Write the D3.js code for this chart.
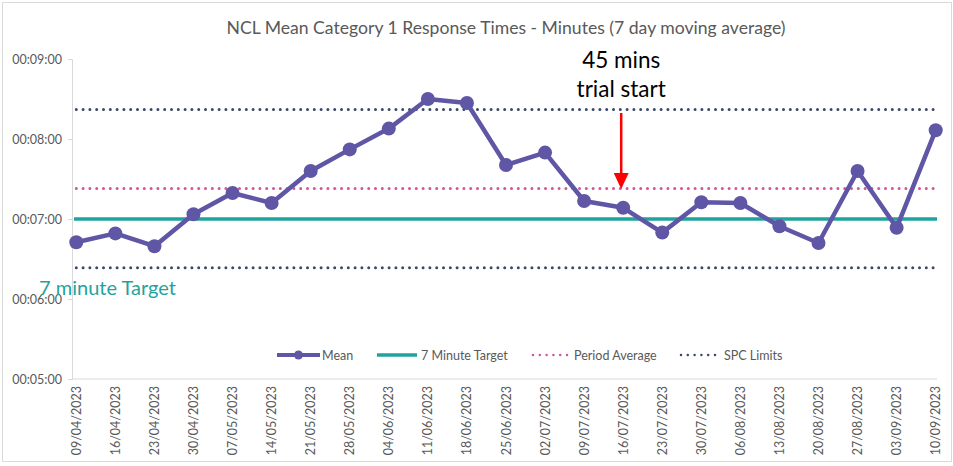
<!DOCTYPE html>
<html><head><meta charset="utf-8">
<script src="https://cdn.jsdelivr.net/npm/d3@7"></script>
<style>body{margin:0;background:#fff}svg{display:block;font-family:Lato,"Open Sans",sans-serif}</style>
</head><body><svg id="c" width="953" height="466"></svg>
<script>
const dates = ["09/04/2023","16/04/2023","23/04/2023","30/04/2023","07/05/2023","14/05/2023","21/05/2023","28/05/2023","04/06/2023","11/06/2023","18/06/2023","25/06/2023","02/07/2023","09/07/2023","16/07/2023","23/07/2023","30/07/2023","06/08/2023","13/08/2023","20/08/2023","27/08/2023","03/09/2023","10/09/2023"];
const meanMinutes = [6.71,6.82,6.66,7.06,7.325,7.20,7.60,7.87,8.13,8.50,8.45,7.675,7.83,7.225,7.14,6.83,7.21,7.20,6.91,6.70,7.60,6.89,8.11];
const targetMinutes = 7.0;
const periodAverage = 7.38;
const spcUpper = 8.37;
const spcLower = 6.39;
const yTicks = [5,6,7,8,9];
const trialStartDate = "16/07/2023";
const title = "NCL Mean Category 1 Response Times - Minutes (7 day moving average)";

const svg = d3.select("#c");
// chart border
svg.append("rect").attr("x",2.5).attr("y",2.5).attr("width",949).attr("height",459)
  .attr("fill","none").attr("stroke","#d9d9d9");

const x = d3.scalePoint().domain(dates).range([76.3,935.7]);
const y = d3.scaleLinear().domain([5,9]).range([379,59]);
const axisLeft = 72, axisRight = 937;

const fmt = m => { const s = Math.round(m*60); const mm = Math.floor(s/60), ss = s%60;
  return "00:" + String(mm).padStart(2,"0") + ":" + String(ss).padStart(2,"0"); };

// title
svg.append("text").attr("x",506).attr("y",34).attr("text-anchor","middle")
  .attr("font-size",17.6).attr("fill","#595959").text(title);

// y axis
const ya = svg.append("g").attr("transform",`translate(${axisLeft},0)`)
  .call(d3.axisLeft(y).tickValues(yTicks).tickFormat(fmt).tickSize(4).tickPadding(6));
ya.select(".domain").attr("stroke","#d9d9d9");
ya.selectAll(".tick line").attr("stroke","#d9d9d9");
ya.selectAll("text").attr("fill","#595959").attr("font-size",12.5).attr("font-family","Lato,'Open Sans',sans-serif");

// x axis line
svg.append("line").attr("x1",axisLeft).attr("x2",axisRight).attr("y1",y(5)).attr("y2",y(5))
  .attr("stroke","#d9d9d9").attr("stroke-width",1);
// x labels
svg.append("g").selectAll("text").data(dates).join("text")
  .attr("transform",d=>`translate(${x(d)+4.5},386) rotate(-90)`)
  .attr("text-anchor","end").attr("font-size",12.5).attr("fill","#595959").text(d=>d);

// reference lines
const x0 = x(dates[0]), x1 = x(dates[dates.length-1]);
function dotted(v,color){
  svg.append("line").attr("x1",x0).attr("x2",x1).attr("y1",y(v)).attr("y2",y(v))
    .attr("stroke",color).attr("stroke-width",3).attr("stroke-linecap","round")
    .attr("stroke-dasharray","0 6.8");
}
dotted(spcUpper,"#3a4868");
dotted(spcLower,"#3a4868");
dotted(periodAverage,"#d0569a");
svg.append("line").attr("x1",axisLeft+2).attr("x2",axisRight).attr("y1",y(targetMinutes)).attr("y2",y(targetMinutes))
  .attr("stroke","#1fa39c").attr("stroke-width",3.5);

// mean line
svg.append("path").datum(meanMinutes.map((v,i)=>[dates[i],v]))
  .attr("fill","none").attr("stroke","#5f56a5").attr("stroke-width",4.5).attr("stroke-linejoin","round")
  .attr("d",d3.line().x(d=>x(d[0])).y(d=>y(d[1])));
svg.append("g").selectAll("circle").data(meanMinutes).join("circle")
  .attr("cx",(d,i)=>x(dates[i])).attr("cy",d=>y(d)).attr("r",7).attr("fill","#5f56a5");

// 7 minute target label
svg.append("text").attr("x",39).attr("y",295).attr("font-size",20).attr("fill","#1fa39c")
  .text("7 minute Target");

// annotation
const ax = x(trialStartDate) - 2;
svg.append("text").attr("x",ax).attr("y",68).attr("text-anchor","middle").attr("font-size",22.5).attr("fill","#000").text("45 mins");
svg.append("text").attr("x",ax).attr("y",97).attr("text-anchor","middle").attr("font-size",22.5).attr("fill","#000").text("trial start");
svg.append("line").attr("x1",ax).attr("x2",ax).attr("y1",113).attr("y2",174).attr("stroke","#ff0000").attr("stroke-width",2.5);
svg.append("path").attr("d",`M${ax-7.5},173 L${ax+7.5},173 L${ax},189 Z`).attr("fill","#ff0000");

// legend
const ly = 355;
const lg = svg.append("g").attr("font-size",12.5).attr("fill","#595959");
lg.append("line").attr("x1",277).attr("x2",320).attr("y1",ly).attr("y2",ly).attr("stroke","#5f56a5").attr("stroke-width",4);
lg.append("circle").attr("cx",298.5).attr("cy",ly).attr("r",4.5).attr("fill","#5f56a5");
lg.append("text").attr("x",322).attr("y",ly+4.5).text("Mean");
lg.append("line").attr("x1",377).attr("x2",417).attr("y1",ly).attr("y2",ly).attr("stroke","#1fa39c").attr("stroke-width",3.5);
lg.append("text").attr("x",421).attr("y",ly+4.5).text("7 Minute Target");
lg.append("line").attr("x1",533).attr("x2",570).attr("y1",ly).attr("y2",ly).attr("stroke","#d0569a").attr("stroke-width",2.5).attr("stroke-linecap","round").attr("stroke-dasharray","0 6.8");
lg.append("text").attr("x",574).attr("y",ly+4.5).text("Period Average");
lg.append("line").attr("x1",681).attr("x2",718).attr("y1",ly).attr("y2",ly).attr("stroke","#3a4868").attr("stroke-width",2.5).attr("stroke-linecap","round").attr("stroke-dasharray","0 6.8");
lg.append("text").attr("x",724).attr("y",ly+4.5).text("SPC Limits");
</script></body></html>
